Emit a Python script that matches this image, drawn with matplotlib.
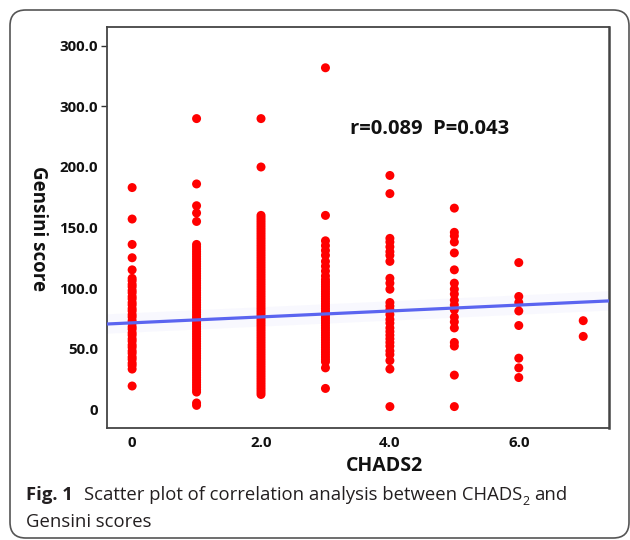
import matplotlib
matplotlib.use("Agg")
import matplotlib.pyplot as plt
from matplotlib.patches import FancyBboxPatch
import numpy as np

# ---- data ----
chads_levels = [0, 1, 2, 3, 4, 5, 6, 7]
score_0 = [183, 157, 136, 125, 115, 108, 106, 103, 101, 98, 96, 93, 91, 88, 86, 83, 81, 78,
           76, 73, 71, 68, 66, 63, 61, 58, 56, 53, 51, 48, 46, 43, 41, 38, 36, 33, 19]
score_1 = [240, 186, 168, 162, 155, 136, 134, 132, 130, 128, 126, 124, 122, 120, 118, 116,
           114, 112, 110, 108, 106, 104, 102, 100, 98, 96, 94, 92, 90, 88, 86, 84, 82, 80,
           78, 76, 74, 72, 70, 68, 66, 64, 62, 60, 58, 56, 54, 52, 50, 48, 46, 44, 42, 40,
           38, 36, 34, 32, 30, 28, 26, 24, 22, 20, 18, 16, 14, 5, 3]
score_2 = [240, 200, 160, 158, 156, 154, 152, 150, 148, 146, 144, 142, 140, 138, 136, 134,
           132, 130, 128, 126, 124, 122, 120, 118, 116, 114, 112, 110, 108, 106, 104, 102,
           100, 98, 96, 94, 92, 90, 88, 86, 84, 82, 80, 78, 76, 74, 72, 70, 68, 66, 64, 62,
           60, 58, 56, 54, 52, 50, 48, 46, 44, 42, 40, 38, 36, 34, 32, 30, 28, 26, 24, 22,
           20, 18, 16, 14, 12]
score_3 = [282, 160, 139, 135, 131, 127, 122, 118, 114, 110, 107, 105, 103, 101, 99, 97,
           95, 93, 91, 89, 87, 85, 83, 81, 79, 77, 75, 73, 71, 69, 67, 65, 63, 61, 59, 57,
           55, 53, 51, 49, 47, 45, 43, 41, 39, 34, 17]
score_4 = [193, 178, 141, 138, 134, 130, 127, 122, 108, 104, 99, 88, 85, 82, 78, 74, 71, 67,
           64, 61, 58, 55, 52, 48, 45, 40, 33, 2]
score_5 = [166, 146, 143, 138, 129, 115, 104, 99, 95, 90, 86, 82, 76, 72, 67, 55, 52, 28, 2]
score_6 = [121, 93, 88, 81, 69, 42, 34, 26]
score_7 = [73, 60]
scores = [score_0, score_1, score_2, score_3, score_4, score_5, score_6, score_7]

fit_intercept = 71.2
fit_slope = 2.45
annotation = "r=0.089  P=0.043"

y_ticks = [0, 50, 100, 150, 200, 250, 300]
y_tick_labels = ["0", "50.0", "100.0", "150.0", "200.0", "300.0", "300.0"]
x_ticks = [0, 2, 4, 6]
x_tick_labels = ["0", "2.0", "4.0", "6.0"]

# ---- figure ----
W, H = 630, 540
fig = plt.figure(figsize=(W / 100, H / 100), dpi=100)
fig.patch.set_facecolor("white")

# rounded outer frame
frame = FancyBboxPatch((10 / W, 2 / H), 619 / W, 528 / H,
                       boxstyle="round,pad=0,rounding_size=0.025",
                       transform=fig.transFigure, facecolor="none",
                       edgecolor="#555555", linewidth=1.2, mutation_aspect=W / H)
fig.patches.append(frame)

ax = fig.add_axes([107 / W, 1 - 428 / H, (609 - 107) / W, (428 - 27) / H])
ax.set_xlim(-0.39, 7.4)
ax.set_ylim(-15.7, 315.7)

for lvl, vals in zip(chads_levels, scores):
    ax.scatter(np.full(len(vals), lvl), vals, s=42, color="#ff0000",
               edgecolors="none", zorder=3)

xl = np.array(ax.get_xlim())
yl = fit_intercept + fit_slope * xl
ax.plot(xl, yl, color="#5a64f0", linewidth=14, alpha=0.04, zorder=2,
        solid_capstyle="butt")
ax.plot(xl, yl, color="#5a64f0", linewidth=2.3, zorder=4, solid_capstyle="butt")

ax.set_yticks(y_ticks)
ax.set_yticklabels(y_tick_labels)
ax.set_xticks(x_ticks)
ax.set_xticklabels(x_tick_labels)
for lab in ax.get_yticklabels() + ax.get_xticklabels():
    lab.set_fontfamily("Open Sans")
    lab.set_fontweight("bold")
    lab.set_fontsize(10.8)
    lab.set_color("#111111")
ax.tick_params(axis="y", length=4.5, width=1, color="#333333", pad=2)
ax.tick_params(axis="x", length=0, pad=6)
for i, t in enumerate(ax.yaxis.get_major_ticks()):
    if i < 5:
        t.tick1line.set_visible(False)

for side, sp in ax.spines.items():
    sp.set_color("#444444")
    sp.set_linewidth(1.3)
ax.spines["right"].set_linewidth(1.8)

ax.text((350 - 107) / 502, 0.745, annotation, transform=ax.transAxes, fontsize=14.5,
        fontweight="bold", fontfamily="Open Sans", color="#111111", ha="left", va="center")

fig.text(38 / W, 1 - 228 / H, "Gensini score", rotation=270, fontsize=13.5,
         fontweight="bold", fontfamily="Open Sans", ha="center", va="center",
         color="#111111")
fig.text(384 / W, 1 - 466 / H, "CHADS2", fontsize=14, fontweight="bold",
         fontfamily="Open Sans", ha="center", va="center", color="#111111")

# caption
cap_color = "#231f20"
fig.canvas.draw()
r = fig.canvas.get_renderer()
y1 = 1 - 500 / H
t1 = fig.text(26 / W, y1, "Fig. 1", fontsize=13.3, fontweight="bold",
              fontfamily="Open Sans", color=cap_color, ha="left", va="baseline")
bb = t1.get_window_extent(r)
t2 = fig.text(bb.x1 / W + 11 / W, y1, "Scatter plot of correlation analysis between CHADS",
              fontsize=13.3, fontfamily="Open Sans", color=cap_color, ha="left", va="baseline")
bb = t2.get_window_extent(r)
t3 = fig.text(bb.x1 / W + 0.5 / W, y1 - 5 / H, "2", fontsize=9,
              fontfamily="Open Sans", color=cap_color, ha="left", va="baseline")
bb = t3.get_window_extent(r)
fig.text(bb.x1 / W + 4 / W, y1, "and", fontsize=13.3, fontfamily="Open Sans",
         color=cap_color, ha="left", va="baseline")
fig.text(26 / W, 1 - 527 / H, "Gensini scores", fontsize=13.3, fontfamily="Open Sans",
         color=cap_color, ha="left", va="baseline")

fig.savefig("out.png", dpi=100, facecolor="white")
